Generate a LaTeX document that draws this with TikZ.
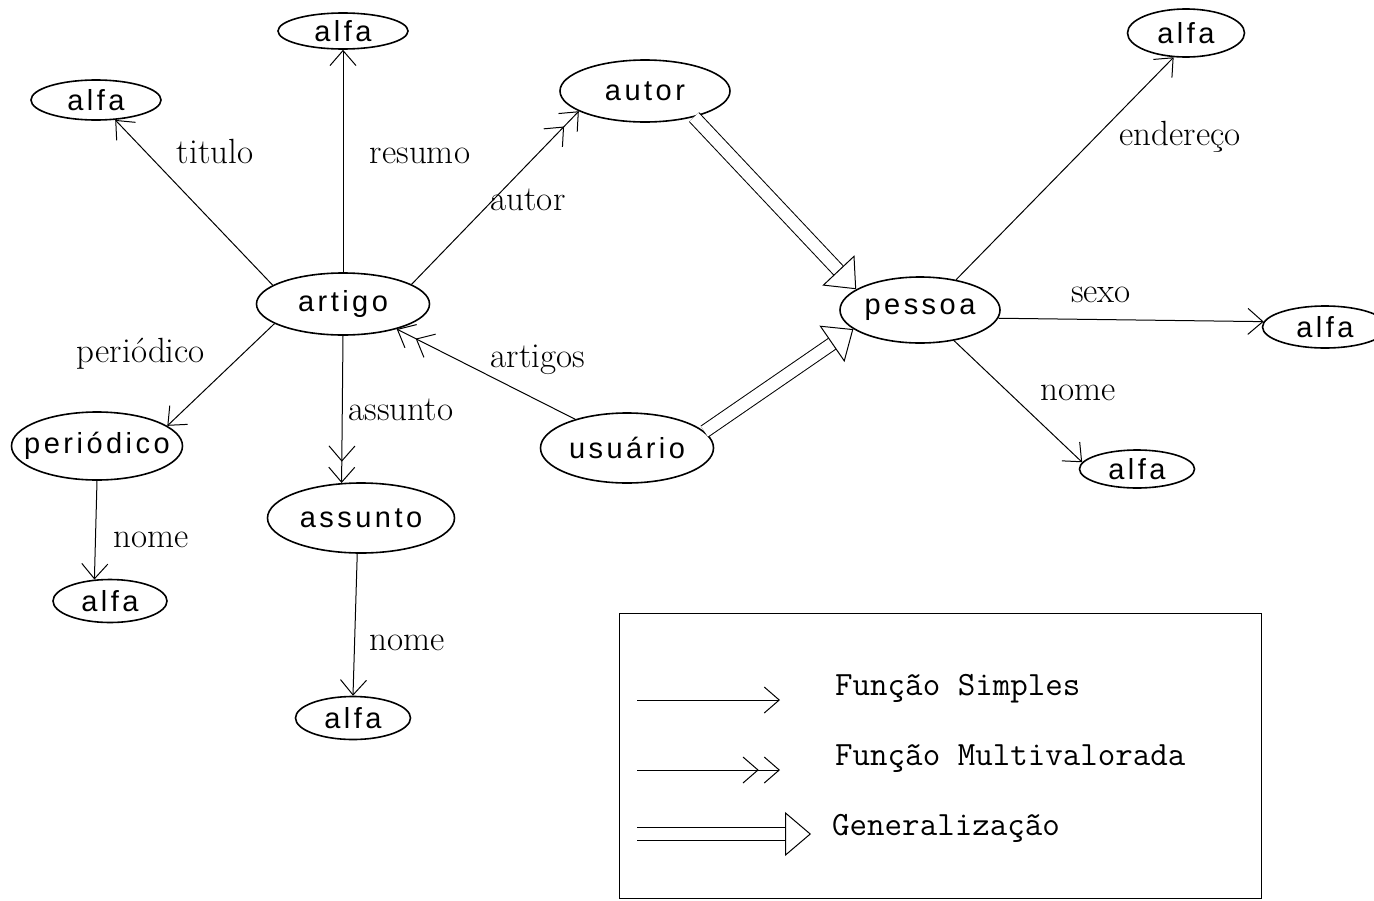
\documentclass[tikz,border=0pt]{standalone}
\usepackage{fontspec}
\usetikzlibrary{shapes.geometric,arrows.meta}
\newfontfamily\entfont[LetterSpace=12]{Liberation Sans}
\tikzset{
  entlab/.style={font=\entfont\fontsize{29}{32}\selectfont, inner sep=0pt},
  ent/.style n args={3}{ellipse, draw, line width=1.6pt, minimum width=#1, minimum height=#2, inner sep=0pt, label={[entlab]center:#3}},
  elab/.style={font=\fontsize{35}{40}\selectfont, inner sep=0pt, anchor=base},
  leglab/.style={font=\ttfamily\fontsize{34}{40}\selectfont, inner sep=0pt, anchor=base west},
  simp/.style={line width=1pt, -{Straight Barb[length=15pt,width=26pt]}},
  multi/.style={line width=1pt, -{Straight Barb[length=15pt,width=26pt,sep=5pt] Straight Barb[length=15pt,width=26pt]}},
  gen/.style={line width=1pt, double, double distance=12pt, -{Triangle[open,length=26pt,width=44pt]}}
}
\begin{document}
\begin{tikzpicture}[x=1pt,y=-1pt]
\useasboundingbox (0,0) rectangle (1374,900);
\clip (0,0) rectangle (1374,900);
% entities
\node[ent={130}{36}{alfa}] (alfaR) at (343,31) {};
\node[ent={130}{40}{alfa}] (alfaT) at (96,100) {};
\node[ent={173}{62}{artigo}] (artigo) at (343,304) {};
\node[ent={170}{62}{autor}] (autor) at (645,91) {};
\node[ent={160}{66}{pessoa}] (pessoa) at (920,310) {};
\node[ent={117}{48}{alfa}] (alfaE) at (1186,33) {};
\node[ent={125}{42}{alfa}] (alfaS) at (1325,327) {};
\node[ent={115}{38}{alfa}] (alfaN) at (1137,469) {};
\node[ent={171}{68}{periódico}] (per) at (97,446) {};
\node[ent={187}{70}{assunto}] (assunto) at (361,518) {};
\node[ent={173}{70}{usuário}] (usuario) at (627,448) {};
\node[ent={114}{43}{alfa}] (alfaP) at (110,601) {};
\node[ent={115}{43}{alfa}] (alfaA) at (353,718) {};
% connectors
\draw[simp] (artigo.165) -- (alfaT.-46);
\draw[simp] (artigo.north) -- (alfaR.south);
\draw[multi] (artigo.16) -- (autor.-163);
\draw[multi] (usuario.151) -- (artigo.-25);
\draw[simp] (artigo.196) -- (per.16);
\draw[multi] (artigo.270) -- (assunto.119);
\draw[simp] (per.270) -- (alfaP.126);
\draw[simp] (assunto.264) -- (alfaA.north);
\draw[simp] (pessoa.40.6) -- (alfaE.-117);
\draw[simp] (pessoa.-6) -- (alfaS.175);
\draw[simp] (pessoa.-42) -- (alfaN.173);
\draw[gen] (autor.-28) -- (pessoa.162);
\draw[gen] (usuario.12) -- (pessoa.196);
% edge labels
\node[elab] (lt) at (215,163) {titulo};
\node[elab] (lr) at (420,163) {resumo};
\node[elab] (la) at (528,210) {autor};
\node[elab] (lp) at (141,362) {periódico};
\node[elab] (las) at (401,420) {assunto};
\node[elab] (lart) at (538,367) {artigos};
\node[elab] (ln1) at (151,547) {nome};
\node[elab] (ln2) at (407,650) {nome};
\node[elab] (le) at (1180,145) {endereço};
\node[elab] (ls) at (1101,302) {sexo};
\node[elab] (ln3) at (1078,400) {nome};
% legend
\draw[line width=1pt] (619,613) rectangle (1261,898);
\coordinate (s1) at (637,700); \coordinate (e1) at (780,700);
\coordinate (s2) at (637,770); \coordinate (e2) at (780,770);
\coordinate (s3) at (637,834); \coordinate (e3) at (811,834);
\draw[simp] (s1) -- (e1);
\draw[multi] (s2) -- (e2);
\draw[gen] (s3) -- (e3);
\node[leglab] (t1) at (835,695) {Função Simples};
\node[leglab] (t2) at (835,765) {Função Multivalorada};
\node[leglab] (t3) at (832,835) {Generalização};
\end{tikzpicture}
\end{document}
